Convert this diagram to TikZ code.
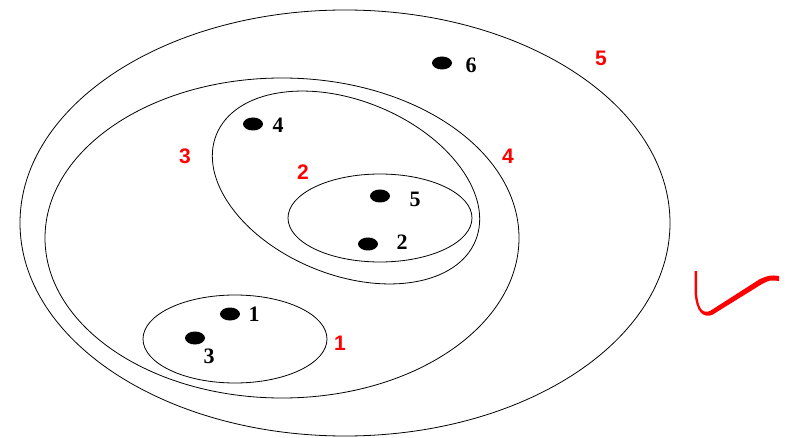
\documentclass[tikz,border=0pt]{standalone}
\usepackage{fontspec}
\setmainfont{Liberation Serif}
\newfontfamily\redsans{Liberation Sans}
\begin{document}
\begin{tikzpicture}[x=1pt,y=1pt,
  setline/.style={draw=black,line width=0.8pt},
  dotmark/.style={fill=black,ellipse},
  numlab/.style={font=\fontsize{22}{22}\selectfont\bfseries,inner sep=0pt},
  redlab/.style={font=\redsans\fontsize{21}{21}\selectfont\bfseries,text=red,inner sep=0pt}]
\useasboundingbox (0,0) rectangle (790,437);
% sets
\draw[setline] (345,214) ellipse [x radius=325,y radius=213];
\draw[setline] (282,199) ellipse [x radius=237,y radius=160];
\draw[setline,rotate around={-22.3:(346,249.5)}] (346,249.5) ellipse [x radius=140,y radius=87];
\draw[setline] (380,219) ellipse [x radius=92,y radius=44];
\draw[setline] (235,98) ellipse [x radius=92,y radius=44];
% points
\fill (442,374) ellipse [x radius=10,y radius=6.5];
\fill (253,313) ellipse [x radius=10,y radius=6.5];
\fill (380,241) ellipse [x radius=10,y radius=6.5];
\fill (368,193) ellipse [x radius=10,y radius=6.5];
\fill (230,123) ellipse [x radius=10,y radius=6.5];
\fill (195,99) ellipse [x radius=10,y radius=6.5];
\node[numlab] (l6) at (471,372) {6};
\node[numlab] (l4) at (278,312) {4};
\node[numlab] (l5) at (415,238) {5};
\node[numlab] (l2) at (402,195) {2};
\node[numlab] (l1) at (254,123) {1};
\node[numlab] (l3) at (209,81) {3};
% red labels
\node[redlab] (r5) at (601,379) {5};
\node[redlab] (r4) at (508,281) {4};
\node[redlab] (r3) at (185,281) {3};
\node[redlab] (r2) at (303,265) {2};
\node[redlab] (r1) at (340,94) {1};
% check mark
\fill[red] (694.5,166) -- (694.5,145) .. controls (696,125) and (703,119) .. (712,122)
  -- (762,153) .. controls (770,157) .. (779,156) -- (779,161)
  .. controls (770,162) .. (760,158) -- (710,126)
  .. controls (702,123) and (698,129) .. (697,145) -- (697,166) -- cycle;
\end{tikzpicture}
\end{document}
